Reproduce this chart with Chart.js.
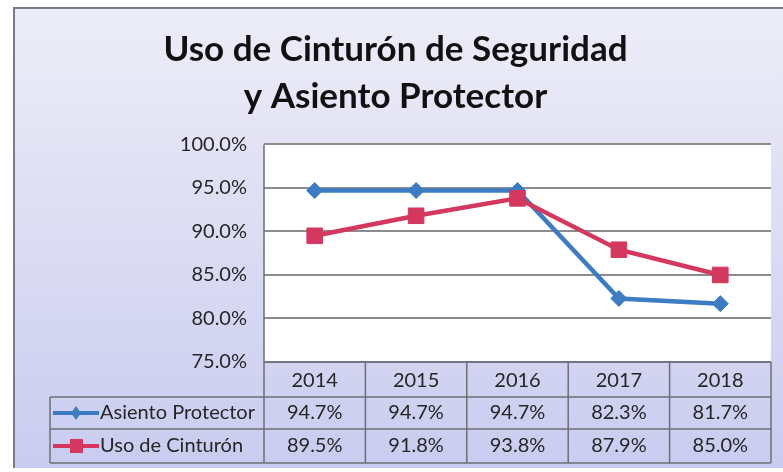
<!DOCTYPE html>
<html>
<head>
<meta charset="utf-8">
<script src="https://cdn.jsdelivr.net/npm/chart.js@4"></script>
<style>
  html, body { margin: 0; padding: 0; background: #fff; }
  #wrap { width: 783px; height: 472px; }
</style>
</head>
<body>
<div id="wrap"><canvas id="chart" width="783" height="472"></canvas></div>
<script>
const years = ['2014', '2015', '2016', '2017', '2018'];
const asientoProtector = [94.7, 94.7, 94.7, 82.3, 81.7];
const usoCinturon = [89.5, 91.8, 93.8, 87.9, 85.0];
const seriesNames = ['Asiento Protector', 'Uso de Cinturón'];
const titleLines = ['Uso de Cinturón de Seguridad', 'y Asiento Protector'];

const BLUE = '#3b7cc3';
const RED = '#d5385f';
const FONT = 'Lato, "Open Sans", sans-serif';
const TEXT = '#262626';
const pct = (v) => v.toFixed(1) + '%';

// background frame + white plot area
const backdrop = {
    id: 'backdrop',
    beforeDraw(chart) {
        const { ctx, chartArea: a } = chart;
        ctx.save();
        ctx.fillStyle = '#fff';
        ctx.fillRect(0, 0, chart.width, chart.height);
        const g = ctx.createLinearGradient(0, 8, 0, 468);
        g.addColorStop(0, '#ededf8');
        g.addColorStop(0.5, '#dcdcf3');
        g.addColorStop(1, '#c9ccef');
        ctx.fillStyle = g;
        ctx.fillRect(14, 8, chart.width - 14, 460);
        ctx.strokeStyle = '#7a7a8a';
        ctx.lineWidth = 2;
        ctx.beginPath();
        ctx.moveTo(14, 468);
        ctx.lineTo(14, 8);
        ctx.lineTo(chart.width, 8);
        ctx.stroke();
        ctx.fillStyle = '#fff';
        ctx.fillRect(a.left, a.top, a.right - a.left, a.bottom - a.top);
        ctx.restore();
    }
};

// data table under the plot
const dataTable = {
    id: 'dataTable',
    afterDraw(chart) {
        const { ctx, chartArea: a, scales: { x } } = chart;
        const rowTop = [a.bottom, 397, 429, 463];
        const tableLeft = 50;
        const step = x.getPixelForValue(1) - x.getPixelForValue(0);
        ctx.save();
        ctx.strokeStyle = '#6e6e78';
        ctx.lineWidth = 1.5;
        ctx.beginPath();
        // plot frame left
        ctx.moveTo(a.left, a.top);
        ctx.lineTo(a.left, rowTop[3]);
        // column separators
        for (let i = 0; i < years.length; i++) {
            const xb = x.getPixelForValue(i) + step / 2;
            ctx.moveTo(xb, a.bottom);
            ctx.lineTo(xb, rowTop[3]);
        }
        ctx.moveTo(a.left, a.bottom);
        ctx.lineTo(a.right, a.bottom);
        for (let r = 1; r < rowTop.length; r++) {
            ctx.moveTo(tableLeft, rowTop[r]);
            ctx.lineTo(a.right, rowTop[r]);
        }
        ctx.moveTo(tableLeft, rowTop[1]);
        ctx.lineTo(tableLeft, rowTop[3]);
        ctx.stroke();

        const rows = [asientoProtector, usoCinturon];
        const colors = [BLUE, RED];
        ctx.font = '20px ' + FONT;
        ctx.textBaseline = 'middle';
        rows.forEach((vals, r) => {
            const cy = (rowTop[r + 1] + rowTop[r + 2]) / 2;
            ctx.textAlign = 'center';
            ctx.fillStyle = TEXT;
            vals.forEach((v, i) => ctx.fillText(pct(v), x.getPixelForValue(i), cy));
            // legend key
            ctx.strokeStyle = colors[r];
            ctx.lineWidth = 4;
            ctx.beginPath();
            ctx.moveTo(53, cy);
            ctx.lineTo(99, cy);
            ctx.stroke();
            ctx.fillStyle = colors[r];
            ctx.beginPath();
            if (r === 0) {
                ctx.moveTo(76, cy - 7);
                ctx.lineTo(81, cy);
                ctx.lineTo(76, cy + 7);
                ctx.lineTo(71, cy);
            } else {
                ctx.rect(70, cy - 7, 13, 14);
            }
            ctx.fill();
            ctx.fillStyle = TEXT;
            ctx.textAlign = 'left';
            ctx.fillText(seriesNames[r], 100, cy);
        });
        ctx.restore();
    }
};

new Chart(document.getElementById('chart'), {
    type: 'line',
    data: {
        labels: years,
        datasets: [
            {
                label: seriesNames[0],
                data: asientoProtector,
                borderColor: BLUE,
                backgroundColor: BLUE,
                borderWidth: 4.5,
                pointStyle: 'rectRot',
                pointRadius: 8,
                pointBorderWidth: 1,
                tension: 0,
                order: 1,
            },
            {
                label: seriesNames[1],
                data: usoCinturon,
                borderColor: RED,
                backgroundColor: RED,
                borderWidth: 4.5,
                pointStyle: 'rect',
                pointRadius: 11,
                pointBorderWidth: 1,
                tension: 0,
                order: 0,
            },
        ],
    },
    options: {
        responsive: false,
        animation: false,
        layout: { padding: { left: 20, right: 12, top: 0, bottom: 0 } },
        plugins: {
            legend: { display: false },
            tooltip: { enabled: false },
            title: {
                display: true,
                text: titleLines,
                color: '#111',
                font: { family: FONT, size: 35, weight: 'bold', lineHeight: 1.32 },
                padding: { top: 27, bottom: 25 },
            },
        },
        scales: {
            x: {
                offset: true,
                grid: { display: false, drawTicks: false },
                border: { display: false },
                ticks: { color: TEXT, font: { family: FONT, size: 20 }, padding: 7 },
                afterFit: (s) => { s.height = 110; },
            },
            y: {
                min: 75,
                max: 100,
                grid: { color: '#8c8c8c', lineWidth: 2, drawTicks: false },
                border: { display: false },
                ticks: {
                    stepSize: 5,
                    color: TEXT,
                    font: { family: FONT, size: 20 },
                    padding: 17,
                    callback: (v) => pct(v),
                },
                afterFit: (s) => { s.width = 244; },
            },
        },
    },
    plugins: [backdrop, dataTable],
});
</script>
</body>
</html>
